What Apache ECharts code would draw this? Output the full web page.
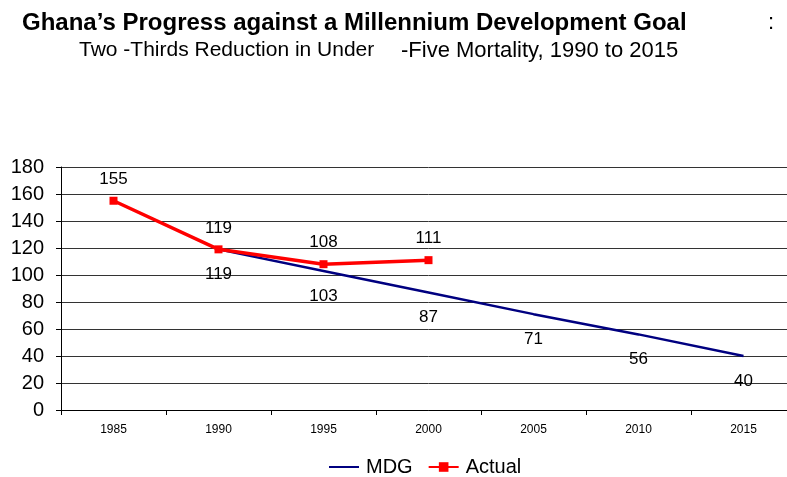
<!DOCTYPE html>
<html>
<head>
<meta charset="utf-8">
<script src="https://cdn.jsdelivr.net/npm/echarts@6/dist/echarts.min.js"></script>
<style>
  html, body { margin: 0; padding: 0; background: #fff; overflow: hidden; }
  /* 画布比窗口略宽，右侧被裁掉，与原图一致 */
  #chart { width: 796px; height: 477px; }
</style>
</head>
<body>
<div id="chart"></div>
<script>
// 数据
const years = ['1985', '1990', '1995', '2000', '2005', '2010', '2015']
const mdgValues = [null, 119, 103, 87, 71, 56, 40]
const actualValues = [155, 119, 108, 111, null, null, null]
const yTicks = [0, 180, 20]

const font = 'Liberation Sans, Arial, sans-serif'
const chart = echarts.init(document.getElementById('chart'))

const option = {
  animation: false,
  textStyle: { fontFamily: font },
  graphic: [
    {
      type: 'text', left: 22, top: 11,
      style: { text: 'Ghana’s Progress against a Millennium Development Goal', font: 'bold 24px ' + font, fill: '#000' }
    },
    {
      type: 'text', left: 768, top: 12,
      style: { text: ':', font: '22px ' + font, fill: '#000' }
    },
    {
      type: 'text', left: 79, top: 40,
      style: { text: 'Two -Thirds Reduction in Under', font: '21px ' + font, fill: '#000' }
    },
    {
      type: 'text', left: 401, top: 40,
      style: { text: '-Five Mortality, 1990 to 2015', font: '22px ' + font, fill: '#000' }
    }
  ],
  legend: {
    bottom: -5,
    left: 323,
    itemWidth: 30,
    itemHeight: 12,
    itemGap: 15,
    textStyle: { fontSize: 20, color: '#000', fontFamily: font, padding: [0, 0, 0, 2] },
    data: ['MDG', 'Actual']
  },
  grid: {
    left: 61,
    right: 0,
    top: 167,
    bottom: 67
  },
  xAxis: {
    type: 'category',
    data: years,
    boundaryGap: true,
    axisLine: { lineStyle: { color: '#000', width: 1 } },
    axisTick: { show: true, length: 5, lineStyle: { color: '#000' } },
    axisLabel: { fontSize: 12, color: '#000', margin: 14 }
  },
  yAxis: {
    type: 'value',
    min: yTicks[0],
    max: yTicks[1],
    interval: yTicks[2],
    axisLine: { show: true, lineStyle: { color: '#000' } },
    axisTick: { show: true, length: 5, lineStyle: { color: '#000' } },
    axisLabel: { fontSize: 20, color: '#000', margin: 17 },
    splitLine: { lineStyle: { color: '#333', width: 1 } }
  },
  series: [
    {
      name: 'MDG',
      type: 'line',
      data: mdgValues,
      showSymbol: true,
      symbol: 'circle',
      symbolSize: 1,
      lineStyle: { color: '#000080', width: 2.5 },
      itemStyle: { color: 'rgba(0,0,0,0)' },
      label: {
        show: true,
        position: 'bottom',
        distance: 16,
        fontSize: 17,
        color: '#000'
      },
      z: 2
    },
    {
      name: 'Actual',
      type: 'line',
      data: actualValues,
      symbol: 'rect',
      symbolSize: 8,
      lineStyle: { color: '#ff0000', width: 3.5 },
      itemStyle: { color: '#ff0000' },
      label: {
        show: true,
        position: 'top',
        distance: 9,
        fontSize: 17,
        color: '#000'
      },
      z: 3
    }
  ]
}

chart.setOption(option)
</script>
</body>
</html>
